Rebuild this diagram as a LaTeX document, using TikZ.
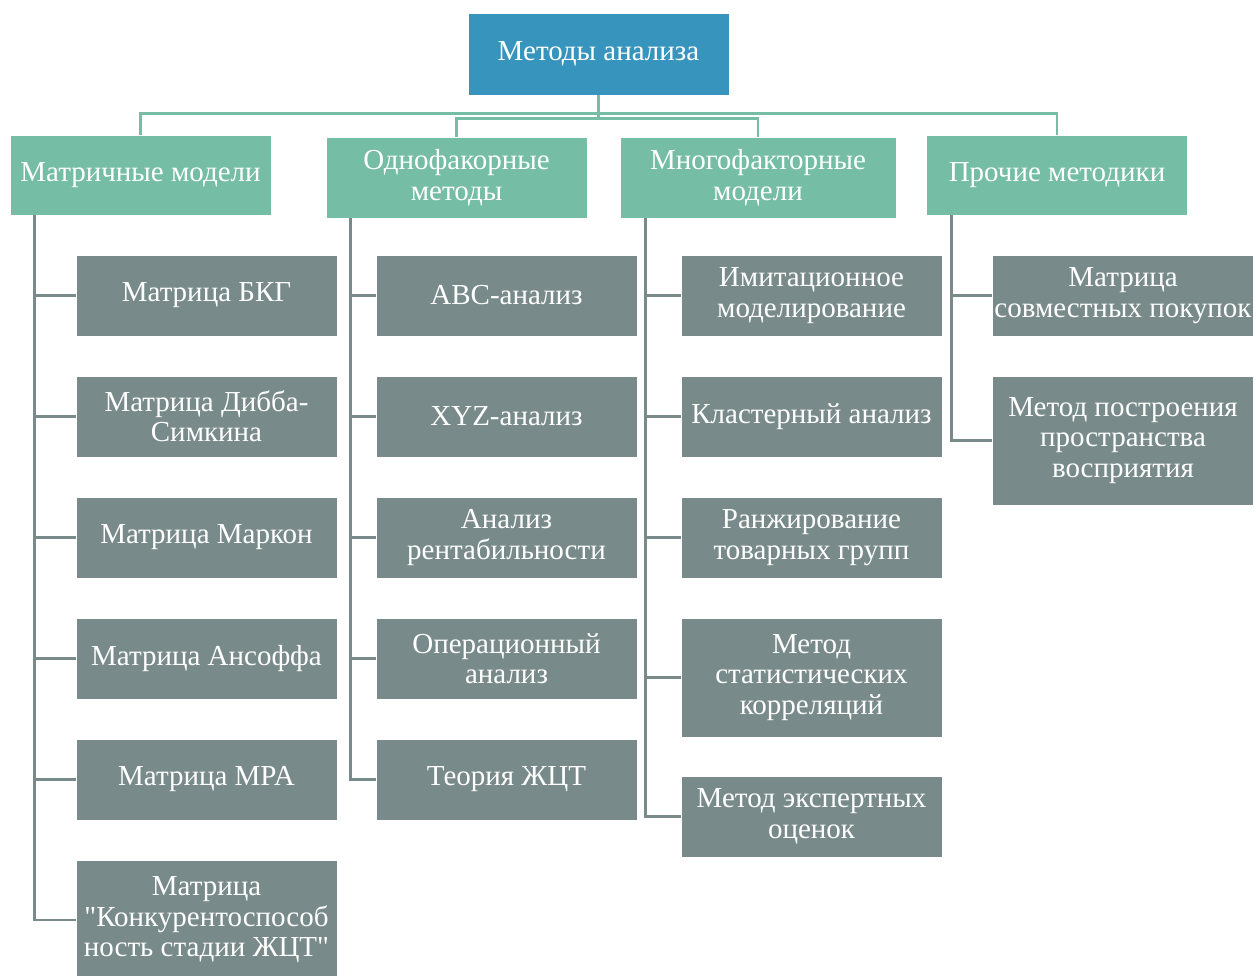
\documentclass[tikz,border=0pt]{standalone}
\usepackage{fontspec}
\setmainfont{Liberation Serif}
\usepackage{xcolor}
\definecolor{rootblue}{HTML}{3794BD}
\definecolor{grpgreen}{HTML}{76BDA5}
\definecolor{itemgray}{HTML}{798A8A}

\begin{document}
\begin{tikzpicture}[x=1pt,y=-1pt,
    box/.style={rectangle,draw=white,line width=0.6pt,text=white,align=center,
      inner sep=0pt,minimum width=261pt,minimum height=81pt,
      font=\fontsize{29}{30.5}\selectfont},
    rootbox/.style={box,fill=rootblue,minimum height=82pt},
    grpbox/.style={box,fill=grpgreen},
    itembox/.style={box,fill=itemgray},
    gline/.style={draw=grpgreen,line width=2.6pt},
    sline/.style={draw=itemgray,line width=2.6pt}]
    \useasboundingbox (0,0) rectangle (1256,976);

    \node[rootbox] (root) at (598.5,54) {Методы анализа};

    \node[grpbox,minimum height=80pt] (m1) at (140.5,175) {Матричные модели};
    \node[grpbox] (m2) at (456.5,177.5) {Однофакорные\\методы};
    \node[grpbox,minimum width=276pt] (m3) at (758,177.5) {Многофакторные\\модели};
    \node[grpbox,minimum height=80pt] (m4) at (1057,175) {Прочие методики};

    \draw[gline] (root.south) -- ++(0,18) -| (m1.north);
    \draw[gline] (root.south) -- ++(0,18) -| (m4.north);
    \draw[gline] (root.south) -- ++(0,23) -| (m2.north);
    \draw[gline] (root.south) -- ++(0,23) -| (m3.north);

    % matrix models
    \node[itembox] (a1) at (206.5,295.5) {Матрица БКГ};
    \node[itembox] (a2) at (206.5,416.5) {Матрица Дибба-\\Симкина};
    \node[itembox] (a3) at (206.5,537.5) {Матрица Маркон};
    \node[itembox] (a4) at (206.5,658.5) {Матрица Ансоффа};
    \node[itembox] (a5) at (206.5,779.5) {Матрица MPA};
    \node[itembox,minimum height=120pt] (a6) at (206.5,920) {Матрица\\\textquotedbl Конкурентоспособ\\ность стадии ЖЦТ\textquotedbl};

    % one-factor methods
    \node[itembox] (b1) at (506.5,295.5) {ABC-анализ};
    \node[itembox] (b2) at (506.5,416.5) {XYZ-анализ};
    \node[itembox] (b3) at (506.5,537.5) {Анализ\\рентабильности};
    \node[itembox] (b4) at (506.5,658.5) {Операционный\\анализ};
    \node[itembox] (b5) at (506.5,779.5) {Теория ЖЦТ};

    % multi-factor models
    \node[itembox] (c1) at (811.5,295.5) {Имитационное\\моделирование};
    \node[itembox] (c2) at (811.5,416.5) {Кластерный анализ};
    \node[itembox] (c3) at (811.5,537.5) {Ранжирование\\товарных групп};
    \node[itembox,minimum height=119pt] (c4) at (811.5,677.5) {Метод\\статистических\\корреляций};
    \node[itembox] (c5) at (811.5,816.5) {Метод экспертных\\оценок};

    % other
    \node[itembox] (d1) at (1123,295.5) {Матрица\\совместных покупок};
    \node[itembox,minimum height=129pt] (d2) at (1123,440.5) {Метод построения\\пространства\\восприятия};

    \foreach \i in {1,...,6}
        \draw[sline] ([xshift=25pt]m1.south west) |- (a\i.west);
    \foreach \i in {1,...,5}
        \draw[sline] ([xshift=25pt]m2.south west) |- (b\i.west);
    \foreach \i in {1,...,5}
        \draw[sline] ([xshift=26pt]m3.south west) |- (c\i.west);
    \foreach \i in {1,2}
        \draw[sline] ([xshift=25pt]m4.south west) |- (d\i.west);
\end{tikzpicture}
\end{document}
